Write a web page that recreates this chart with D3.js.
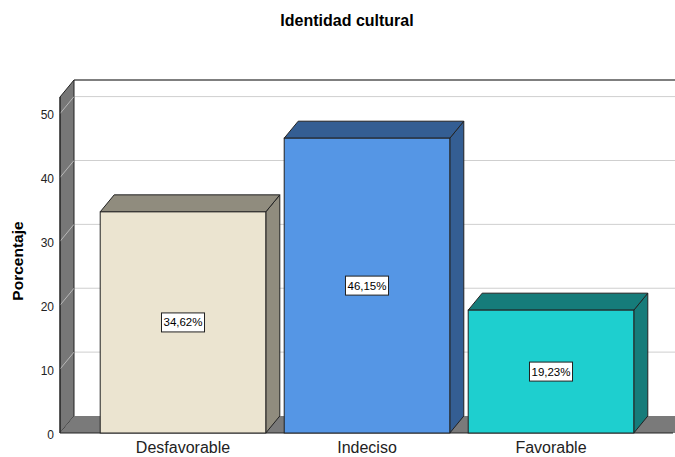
<!DOCTYPE html>
<html>
<head>
<meta charset="utf-8">
<script src="https://cdn.jsdelivr.net/npm/d3@7"></script>
<style>
  body { margin: 0; background: #fff; }
  text { font-family: "Liberation Sans", Arial, sans-serif; }
</style>
</head>
<body>
<div id="chart"></div>
<script>
// data
var categories = ["Desfavorable", "Indeciso", "Favorable"];
var percentages = [34.62, 46.15, 19.23];
var yTicks = [0, 10, 20, 30, 40, 50];

// colours: front face, top/side face
var frontColors = ["#ebe4d0", "#5596e5", "#1ecfcf"];
var sideColors = ["#908c7e", "#345e93", "#167c7a"];

var width = 675, height = 457;
var dx = 14, dy = -17;   // depth of the 3d effect
var svg = d3.select("#chart").append("svg").attr("width", width).attr("height", height);

var x = d3.scaleBand().domain(categories).range([91, 643]).paddingInner(0.1).paddingOuter(0.05);
var y = d3.scaleLinear().domain([0, 52.6]).range([433, 97]);

var left = 60, right = 675;
var y0 = y(0), yTop = y(52.6);

// back wall gridlines
svg.append("g").selectAll("line").data(yTicks.filter(function(d) { return d > 0; })).enter().append("line")
  .attr("x1", left + dx).attr("x2", right)
  .attr("y1", function(d) { return y(d) + dy; }).attr("y2", function(d) { return y(d) + dy; })
  .attr("stroke", "#cfcfcf").attr("stroke-width", 1);

// top edge of back wall
svg.append("line").attr("x1", left + dx).attr("x2", right).attr("y1", yTop + dy).attr("y2", yTop + dy)
  .attr("stroke", "#555").attr("stroke-width", 1.5);

// left wall
svg.append("path")
  .attr("d", d3.line()([[left, yTop], [left + dx, yTop + dy], [left + dx, y0 + dy], [left, y0]]) + "Z")
  .attr("fill", "#777").attr("stroke", "#222").attr("stroke-width", 1);

// tick diagonals on the wall
svg.append("g").selectAll("line").data(yTicks.filter(function(d) { return d > 0; })).enter().append("line")
  .attr("x1", left).attr("x2", left + dx)
  .attr("y1", function(d) { return y(d); }).attr("y2", function(d) { return y(d) + dy; })
  .attr("stroke", "#b8b8b8").attr("stroke-width", 1);

// floor
svg.append("path")
  .attr("d", d3.line()([[left, y0], [left + dx, y0 + dy], [right + dx, y0 + dy], [right, y0]]) + "Z")
  .attr("fill", "#7a7a7a").attr("stroke", "none");
svg.append("line").attr("x1", left).attr("x2", right - 2).attr("y1", y0).attr("y2", y0)
  .attr("stroke", "#222").attr("stroke-width", 1);
svg.append("line").attr("x1", left).attr("x2", left).attr("y1", yTop).attr("y2", y0)
  .attr("stroke", "#222").attr("stroke-width", 1);

// y tick labels
svg.append("g").selectAll("text").data(yTicks).enter().append("text")
  .attr("x", 54).attr("y", function(d) { return y(d) + 2; })
  .attr("dy", "0.32em").attr("text-anchor", "end")
  .attr("font-size", "12px").attr("fill", "#222")
  .text(function(d) { return d; });

// bars
var bars = svg.append("g").selectAll("g").data(categories).enter().append("g");
bars.each(function(c, i) {
  var g = d3.select(this);
  var x0 = x(c), x1 = x(c) + x.bandwidth();
  var yt = y(percentages[i]);
  g.append("path")
    .attr("d", d3.line()([[x1, yt], [x1 + dx, yt + dy], [x1 + dx, y0 + dy], [x1, y0]]) + "Z")
    .attr("fill", sideColors[i]).attr("stroke", "#222").attr("stroke-width", 1);
  g.append("path")
    .attr("d", d3.line()([[x0, yt], [x0 + dx, yt + dy], [x1 + dx, yt + dy], [x1, yt]]) + "Z")
    .attr("fill", sideColors[i]).attr("stroke", "#222").attr("stroke-width", 1);
  g.append("rect")
    .attr("x", x0).attr("y", yt).attr("width", x.bandwidth()).attr("height", y0 - yt)
    .attr("fill", frontColors[i]).attr("stroke", "#222").attr("stroke-width", 1);

  // value label box
  var label = d3.format(".2f")(percentages[i]).replace(".", ",") + "%";
  var cx = (x0 + x1) / 2, cy = (yt + y0) / 2;
  var t = g.append("text").attr("x", cx).attr("y", cy).attr("dy", "0.35em")
    .attr("text-anchor", "middle").attr("font-size", "11.5px").attr("fill", "#000").text(label);
  var bb = t.node().getBBox();
  g.insert("rect", "text")
    .attr("x", bb.x - 2).attr("y", cy - 9.5).attr("width", bb.width + 4).attr("height", 19)
    .attr("fill", "#fff").attr("stroke", "#222").attr("stroke-width", 1);
});

// category labels
svg.append("g").selectAll("text").data(categories).enter().append("text")
  .attr("x", function(d) { return x(d) + x.bandwidth() / 2; }).attr("y", 453)
  .attr("text-anchor", "middle").attr("font-size", "16px").attr("fill", "#222")
  .text(function(d) { return d; });

// title and axis label
svg.append("text").attr("x", 347).attr("y", 26).attr("text-anchor", "middle")
  .attr("font-size", "16px").attr("font-weight", "bold").text("Identidad cultural");
svg.append("text").attr("transform", "translate(23,261) rotate(-90)").attr("text-anchor", "middle")
  .attr("font-size", "15.5px").attr("font-weight", "bold").text("Porcentaje");
</script>
</body>
</html>
